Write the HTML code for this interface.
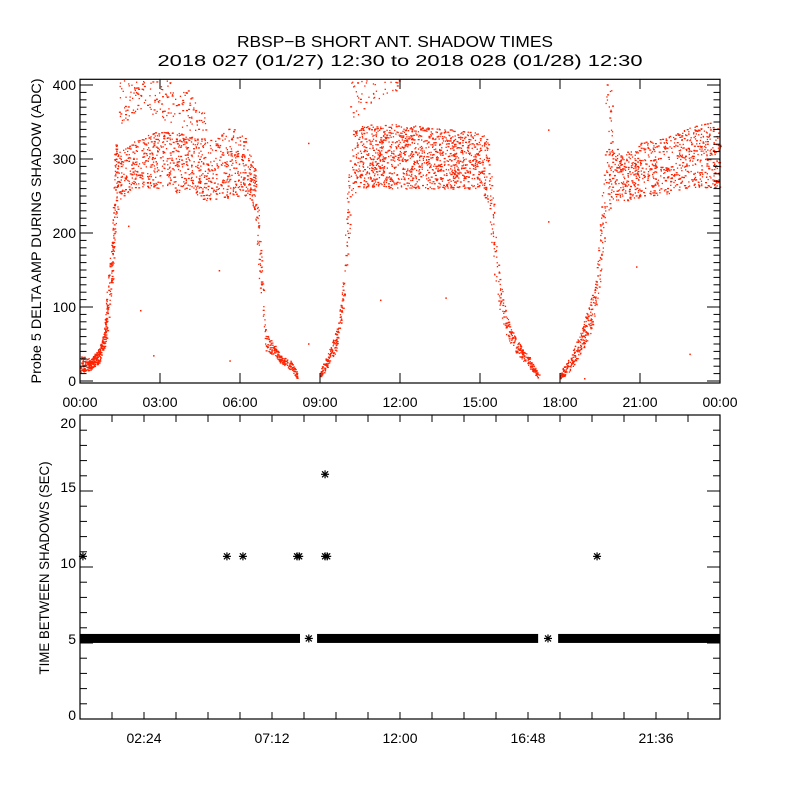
<!DOCTYPE html>
<html><head><meta charset="utf-8">
<style>
html,body{margin:0;padding:0;background:#fff;}
svg{display:block;font-family:"Liberation Sans",sans-serif;}
text{fill:#000;}
</style></head>
<body>
<svg id="chart" width="800" height="800" viewBox="0 0 800 800" xmlns="http://www.w3.org/2000/svg">
<rect width="800" height="800" fill="#fff"/>
<text x="395" y="47" font-size="16" text-anchor="middle" textLength="316" lengthAdjust="spacingAndGlyphs">RBSP−B SHORT ANT. SHADOW TIMES</text>
<text x="400" y="66" font-size="16" text-anchor="middle" textLength="485" lengthAdjust="spacingAndGlyphs">2018 027 (01/27) 12:30 to 2018 028 (01/28) 12:30</text>
<text transform="translate(41,231) rotate(-90)" font-size="14" text-anchor="middle" textLength="305" lengthAdjust="spacingAndGlyphs">Probe 5 DELTA AMP DURING SHADOW (ADC)</text>
<text transform="translate(49,568) rotate(-90)" font-size="14" text-anchor="middle" textLength="213" lengthAdjust="spacingAndGlyphs">TIME BETWEEN SHADOWS (SEC)</text>
<g id="topPanel"></g>
<g id="bottomPanel"></g>
</svg>
<script>
// ---- top panel data (hours, ADC envelope) ----
const coreT  = [0.0,0.4,0.7,0.9,1.0,1.2,1.3,1.45,2.0,3.0,4.0,5.0,5.7,6.3,6.55,6.7,6.85,6.95,7.3,7.5,7.9,8.15,9.0,9.3,9.6,9.8,10.0,10.2,10.5,11.0,12.0,13.0,14.0,15.0,15.3,15.5,15.7,16.0,16.4,16.8,17.2,18.0,18.4,18.8,19.1,19.3,19.5,19.7,19.95,20.3,21.0,22.0,23.0,23.6,24.0];
const coreLo = [12,15,25,45,60,120,200,245,262,260,252,242,250,250,230,140,90,40,35,25,15,3,5,20,40,80,140,250,260,262,260,260,260,260,240,150,100,60,35,20,3,3,15,40,60,90,130,200,245,243,248,253,262,262,260];
const coreHi = [35,30,45,70,125,200,330,310,325,340,335,325,345,325,290,230,140,65,50,35,28,10,15,40,70,110,250,340,345,348,348,344,340,336,330,250,150,90,55,35,10,12,35,70,110,125,220,320,330,305,322,330,345,350,340];
const coreN  = [120,100,60,60,50,50,60,90,170,170,170,120,110,60,30,25,15,50,40,60,40,0,60,50,40,30,30,60,120,250,250,250,250,60,30,25,40,50,60,60,0,60,70,60,40,30,40,40,60,140,170,170,130,80,0];
const armT  = [1.45,2.2,3.0,4.0,4.8,10.1,11.0,12.0,19.7,19.95];
const armLo = [340,370,355,340,330,350,380,390,330,330];
const armHi = [410,410,410,395,355,410,410,410,410,410];
const armN  = [50,35,50,35,0,35,20,0,20,0];
const strayT = [2.25,2.74,5.2,5.6,8.55,8.55,1.8,11.25,13.7,17.55,17.55,20.85,22.85,18.9];
const strayV = [96,35,150,28,322,51,210,110,113,340,216,155,37,4];
// ---- bottom panel data ----
const bandStart = [0,8.89,17.93];
const bandEnd   = [8.25,17.18,24];
const bandValue = [5.3,5.3,5.3];
const starT = [0.11,5.51,6.11,8.14,8.22,8.58,9.19,9.19,9.27,17.55,19.39];
const starV = [10.7,10.7,10.7,10.7,10.7,5.3,16.1,10.7,10.7,5.3,10.7];
const topXTicks = ["00:00","03:00","06:00","09:00","12:00","15:00","18:00","21:00","00:00"];
const botXTicks = ["02:24","07:12","12:00","16:48","21:36"];
const topYTicks = [0,100,200,300,400];
const botYTicks = [0,5,10,15,20];

const NS="http://www.w3.org/2000/svg";
const X0=80,X1=720;
const xs=t=>X0+t*(X1-X0)/24;
const ysT=v=>381-v*0.74;
const ysB=v=>719-v*15.2;
function mk(tag,attrs,parent){const e=document.createElementNS(NS,tag);for(const k in attrs)e.setAttribute(k,attrs[k]);parent.appendChild(e);return e;}
const topG=document.getElementById('topPanel'), botG=document.getElementById('bottomPanel');

let seed=12345;
function rnd(){seed=(seed*1103515245+12345)%2147483648;return seed/2147483648;}

function scatter(T,LO,HI,N,g){
  for(let i=0;i<T.length-1;i++){
    for(let k=0;k<N[i];k++){
      const f=rnd();
      const t=T[i]+f*(T[i+1]-T[i]);
      const lo=LO[i]+f*(LO[i+1]-LO[i]), hi=HI[i]+f*(HI[i+1]-HI[i]);
      const v=lo+rnd()*(hi-lo);
      const y=ysT(v); if(y<80) continue;
      const r=mk('rect',{x:xs(t).toFixed(1),y:y.toFixed(1),width:(rnd()<0.3?2:1.3),height:1.3,fill:'#ff2200'},g);
      
      
    }
  }
}
const pts=mk('g',{},topG);


scatter(coreT,coreLo,coreHi,coreN,pts);
scatter(armT,armLo,armHi,armN,pts);
strayT.forEach((t,i)=>{
  const r=mk('rect',{x:xs(t),y:ysT(strayV[i]),width:1.5,height:1.5,fill:'#ff2200'},pts);
  
  
});

const tf=mk('rect',{x:80,y:79.3,width:640,height:303.7,fill:'none',stroke:'#000','stroke-width':1.2},topG);


for(let v=0;v<=400;v+=10){
  const y=ysT(v), L=(v%100===0)?13:6.5;
  mk('line',{x1:80,x2:80+L,y1:y,y2:y,stroke:'#000'},topG);
  mk('line',{x1:720,x2:720-L,y1:y,y2:y,stroke:'#000'},topG);
}
topYTicks.forEach(v=>{
  const t=mk('text',{x:76,y:ysT(v)+5,'font-size':14,'text-anchor':'end'},topG);t.textContent=v;
  
  
});
topXTicks.forEach((s,i)=>{
  const x=xs(i*3);
  mk('line',{x1:x,x2:x,y1:383,y2:373,stroke:'#000'},topG);
  mk('line',{x1:x,x2:x,y1:79.3,y2:89,stroke:'#000'},topG);
  const t=mk('text',{x:x,y:407,'font-size':14,'text-anchor':'middle'},topG);t.textContent=s;
  
  
});

bandStart.forEach((s,i)=>{
  const r=mk('rect',{x:xs(s),y:ysB(bandValue[i])-4.5,width:xs(bandEnd[i])-xs(s),height:9,fill:'#000'},botG);
  
  
});
function star(x,y,g){
  const s=mk('g',{stroke:'#000','stroke-width':1.2},g);
  
  
  mk('line',{x1:x-4,x2:x+4,y1:y,y2:y},s);
  mk('line',{x1:x,x2:x,y1:y-4,y2:y+4},s);
  mk('line',{x1:x-3,x2:x+3,y1:y-3,y2:y+3},s);
  mk('line',{x1:x-3,x2:x+3,y1:y+3,y2:y-3},s);
}
starT.forEach((t,i)=>star(xs(t),ysB(starV[i]),botG));

const bf=mk('rect',{x:80,y:415,width:640,height:304,fill:'none',stroke:'#000','stroke-width':1.2},botG);


for(let v=0;v<=20;v++){
  const y=ysB(v), L=(v%5===0)?13:7;
  mk('line',{x1:80,x2:80+L,y1:y,y2:y,stroke:'#000'},botG);
  mk('line',{x1:720,x2:720-L,y1:y,y2:y,stroke:'#000'},botG);
}
botYTicks.forEach(v=>{
  const t=mk('text',{x:76,y:ysB(v)+1,'font-size':14,'text-anchor':'end'},botG);t.textContent=v;
  if(v===20) t.setAttribute('y',ysB(v)+13);
  
  
});
for(let k=1;k<20;k++){
  const x=xs(k*1.2);
  mk('line',{x1:x,x2:x,y1:719,y2:712,stroke:'#000'},botG);
  mk('line',{x1:x,x2:x,y1:415,y2:422,stroke:'#000'},botG);
}
botXTicks.forEach((s,i)=>{
  const t=mk('text',{x:xs(2.4+i*4.8),y:743,'font-size':14,'text-anchor':'middle'},botG);t.textContent=s;
  
  
});
</script>
</body></html>
